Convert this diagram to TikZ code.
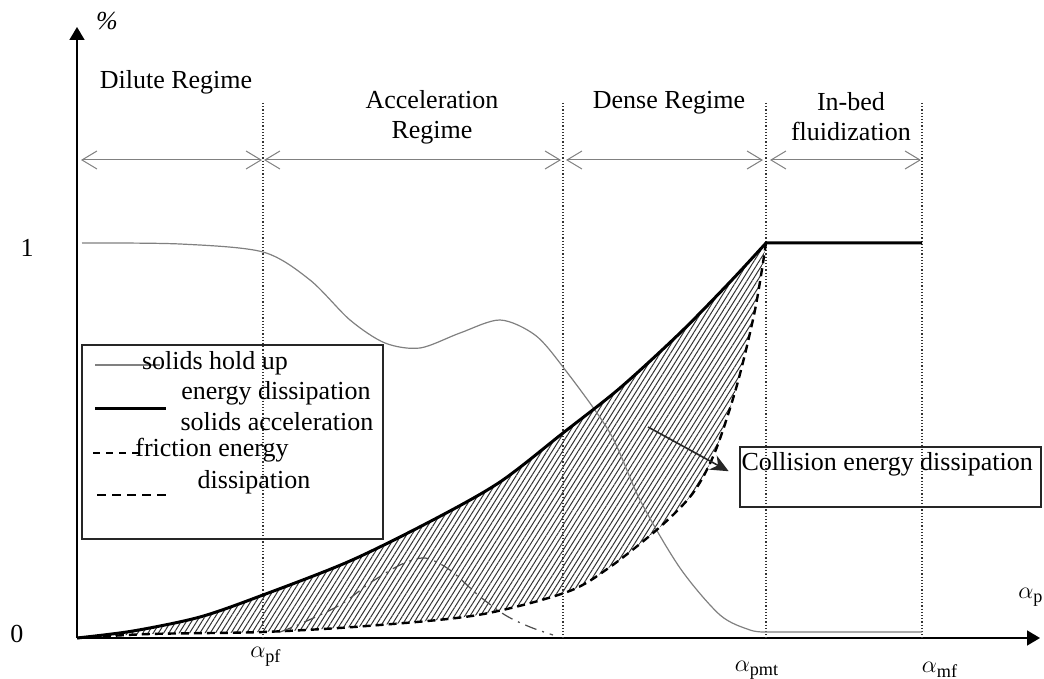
\documentclass[tikz,border=0pt]{standalone}
\usepackage{fontspec}
\setmainfont{Liberation Serif}
\usetikzlibrary{arrows.meta, patterns.meta}

\tikzset{
  lbl/.style={font=\fontsize{13}{15}\selectfont, inner sep=0pt, align=center},
  regline/.style={densely dotted, line width=0.6pt, black!80},
  regarrow/.style={gray, line width=0.5pt,
    {Straight Barb[length=7.5pt,width=9pt]}-{Straight Barb[length=7.5pt,width=9pt]}},
  holdup/.style={gray, line width=0.6pt},
  accel/.style={line width=1.5pt},
  friction/.style={line width=1.2pt, dash pattern=on 4pt off 2.5pt},
  bump/.style={black!70, line width=0.6pt, dash pattern=on 6pt off 3pt on 1pt off 3pt},
  boxed/.style={draw=black!85, line width=0.8pt, inner sep=0pt},
  axis/.style={line width=0.8pt, -{Triangle[length=6.5pt,width=7.5pt]}}
}

\begin{document}
\begin{tikzpicture}[x=0.5pt, y=-0.5pt]
  \useasboundingbox (0,0) rectangle (1044,679);

  % axes
  \coordinate (origin) at (77,638);
  \coordinate (ytip) at (77,27);
  \coordinate (xtip) at (1040,638);
  \draw[axis] (origin) -- (ytip);
  \draw[axis] (origin) -- (xtip);
  \node[lbl] (pct) at (107,21) {\textit{\%}};
  \node[lbl] (one) at (27,248) {1};
  \node[lbl] (zero) at (17,634) {0};
  \node[lbl] (ap) at (1031,597) {$\alpha_{\mathrm{p}}$};
  \node[lbl] (apf) at (266,657) {$\alpha_{\mathrm{pf}}$};
  \node[lbl] (apmt) at (757,670) {$\alpha_{\mathrm{pmt}}$};
  \node[lbl] (amf) at (940,670) {$\alpha_{\mathrm{mf}}$};

  % regime borders
  \foreach \x in {263, 563, 766, 922}
    \draw[regline] (\x,103) -- (\x,638);

  % regime spans
  \draw[regarrow] (81,160) -- (262,160);
  \draw[regarrow] (264,160) -- (561,160);
  \draw[regarrow] (566,160) -- (763,160);
  \draw[regarrow] (770,160) -- (921,160);
  \node[lbl] (dilute) at (176,82) {Dilute Regime};
  \node[lbl] (accreg) at (432,117) {Acceleration\\Regime};
  \node[lbl] (dense) at (669,103) {Dense Regime};
  \node[lbl] (inbed) at (851,117) {In-bed\\fluidization};

  % collision area
  \fill[pattern={Lines[angle=58, distance=2.2pt, line width=0.5pt]}, pattern color=black!80]
    plot[smooth] coordinates {(77,638) (133,631) (200,617) (263,595) (350,561) (433,520)
      (500,482) (563,433) (620,388) (680,333) (730,282) (766,243)}
    -- plot[smooth] coordinates {(766,243) (755,310) (737,385) (715,452) (693,493) (660,527)
      (610,567) (567,592) (478,615) (367,626) (263,632) (150,634) (77,638)}
    -- cycle;

  % curves
  \draw[holdup] plot[smooth] coordinates {(82,243) (180,244) (263,252) (310,280) (350,320)
    (385,343) (420,348) (460,333) (500,320) (535,335) (563,367) (610,433) (640,500)
    (680,568) (720,615) (750,630) (766,632)} -- (922,632);
  \draw[accel] plot[smooth] coordinates {(77,638) (133,631) (200,617) (263,595) (350,561)
    (433,520) (500,482) (563,433) (620,388) (680,333) (730,282) (766,243)} -- (922,243);
  \draw[friction] plot[smooth] coordinates {(77,638) (150,634) (263,632) (367,626) (478,615)
    (567,592) (610,567) (660,527) (693,493) (715,452) (737,385) (755,310) (766,243)};
  \draw[bump] plot[smooth] coordinates {(280,632) (300,624) (340,605) (370,583) (400,565)
    (425,558) (450,570) (478,595) (505,615) (530,627) (553,635)};

  % legend
  \node[boxed, line width=1pt, minimum width=150.5pt, minimum height=97pt] (legend) at (232.5,442) {};
  \draw[holdup] (95,365) -- (160,365);
  \node[lbl] (leghold) at (215,363) {solids hold up};
  \node[lbl] (legacc1) at (276,393) {energy dissipation};
  \draw[accel] (95,408) -- (166,408);
  \node[lbl] (legacc2) at (277,422) {solids acceleration};
  \draw[friction, line width=0.8pt, dash pattern=on 3.5pt off 3pt] (93,453) -- (140,453);
  \node[lbl] (legfric1) at (212,450) {friction energy};
  \node[lbl] (legfric2) at (254,482) {dissipation};
  \draw[friction, line width=0.8pt, dash pattern=on 4.5pt off 3pt] (97,495) -- (168,495);

  % collision label
  \node[boxed, minimum width=150.5pt, minimum height=30pt] (collbox) at (890.5,477) {};
  \node[lbl, anchor=north west] (colltext) at ([xshift=1pt, yshift=-3pt]collbox.north west) {Collision energy dissipation};
  \coordinate (collfrom) at (648,427);
  \draw[line width=0.8pt, black!85, -{Stealth[length=9pt,width=8pt]}, shorten >=6pt] (collfrom) -- (collbox.west);
\end{tikzpicture}
\end{document}
